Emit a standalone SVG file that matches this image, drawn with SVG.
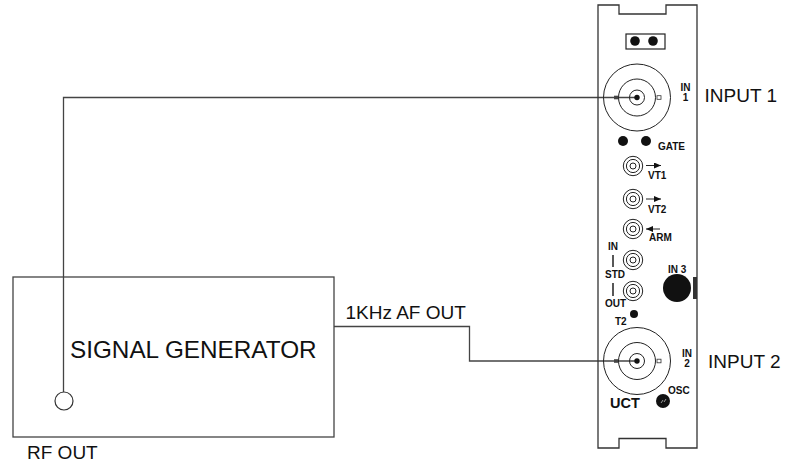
<svg xmlns="http://www.w3.org/2000/svg" width="786" height="463" viewBox="0 0 786 463">
<defs>
<g id="bnc-large"><circle r="33.5" class="thin"/><circle r="18.5" class="thin"/><circle r="7.5" class="thin"/><circle r="2.7" fill="#111"/><rect x="-23" y="-1.8" width="4" height="3.6" fill="#444"/><rect x="20" y="-1.8" width="4" height="3.6" fill="#fff" stroke="#333" stroke-width=".8"/></g>
<g id="bnc-small"><circle r="9.7" class="thin"/><circle r="6.6" class="thin"/><circle r="3" class="thin"/></g>
<marker id="tip" markerWidth="8" markerHeight="7" refX="7" refY="3" orient="auto" markerUnits="userSpaceOnUse"><path d="M0,0L7,3L0,6Z" fill="#111"/></marker>
</defs>
<style>
text{font-family:"Liberation Sans",Arial,sans-serif;fill:#111}
.thin{fill:none;stroke:#222;stroke-width:1}
.line{fill:none;stroke:#444;stroke-width:1.3}
.b{font-weight:700;font-size:10px}
.l{font-size:19px}
.ar{fill:none;stroke:#222;stroke-width:1;marker-end:url(#tip)}
</style>
<rect width="786" height="463" fill="#fff"/>
<g id="connectors">
<path class="line" d="M63.5,392V97.5H637"/>
<path class="line" d="M334,326.500H469.500V361H637"/>
</g>
<g id="signal-generator">
<rect x="13" y="277" width="321" height="160" fill="none" stroke="#444" stroke-width="1.3"/>
<text x="70" y="358" font-size="24.300">SIGNAL GENERATOR</text>
<circle cx="64" cy="401" r="9" fill="#fff" stroke="#333" stroke-width="1.2"/>
<text x="27" y="458.500" class="l">RF OUT</text>
<text x="345.500" y="319" class="l">1KHz AF OUT</text>
</g>
<g id="uct-panel">
<path d="M598,5H619V14H666V5H697V448H666V438.500H619V448H598Z" fill="none" stroke="#333" stroke-width="1.3"/>
<rect x="626" y="34" width="39" height="15" fill="none" stroke="#222" stroke-width="1.2"/>
<circle cx="635" cy="41" r="4.800" fill="#111"/><circle cx="653" cy="41" r="4.800" fill="#111"/>
<circle cx="623" cy="141" r="5" fill="#111"/><circle cx="646" cy="141" r="5" fill="#111"/>
<text x="658" y="150" class="b">GATE</text>
<use href="#bnc-small" x="633" y="166"/><use href="#bnc-small" x="633" y="199"/><use href="#bnc-small" x="633" y="229"/><use href="#bnc-small" x="633" y="260"/><use href="#bnc-small" x="633" y="291"/>
<path class="ar" d="M646,165.500H661"/><path class="ar" d="M646,199H661"/><path class="ar" d="M660,229H646"/>
<text x="648" y="179" class="b">VT1</text><text x="648" y="213" class="b">VT2</text><text x="649" y="241" class="b">ARM</text>
<text x="608" y="250" class="b">IN</text><path d="M613,255V267M613,283V296" fill="none" stroke="#222" stroke-width="1.500"/>
<text x="605" y="278" class="b">STD</text><text x="605" y="307" class="b">OUT</text>
<circle cx="677" cy="288" r="14" fill="#111"/>
<rect x="693" y="277" width="4" height="22" fill="#333"/>
<text x="668" y="273" class="b">IN 3</text>
<circle cx="634" cy="314" r="4" fill="#111"/>
<text x="615" y="325" class="b">T2</text>
<text x="685.500" y="91" class="b" text-anchor="middle">IN</text><text x="685.500" y="101" class="b" text-anchor="middle">1</text>
<text x="687" y="357" class="b" text-anchor="middle">IN</text><text x="687" y="367" class="b" text-anchor="middle">2</text>
<text x="610" y="408" font-size="14.500" font-weight="700">UCT</text>
<circle cx="663" cy="401" r="7" fill="#111"/>
<path d="M661,403L663,400M664,402L666,399" stroke="#bbb" stroke-width=".8"/>
<text x="668" y="394" class="b">OSC</text>
</g>
<g id="input-1"><use href="#bnc-large" x="637" y="97.500"/><text x="704.500" y="102" class="l">INPUT 1</text></g>
<g id="input-2"><use href="#bnc-large" x="637" y="361"/><text x="708" y="368" class="l">INPUT 2</text></g>
</svg>
